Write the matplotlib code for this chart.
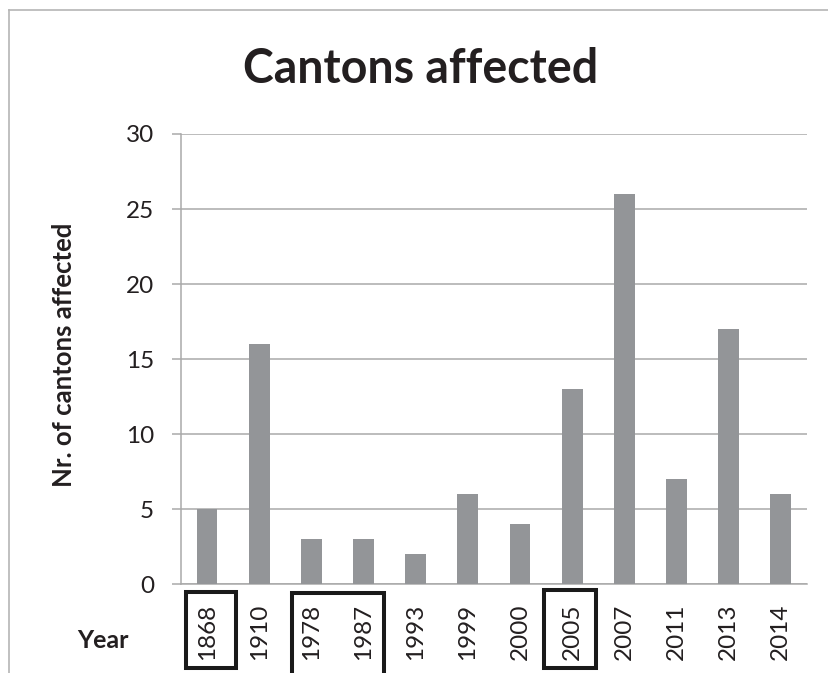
import numpy as np
import matplotlib
matplotlib.use("Agg")
import matplotlib.pyplot as plt
from matplotlib.patches import Rectangle
from matplotlib.lines import Line2D

plt.rcParams['font.family'] = ['Lato', 'DejaVu Sans']

# Jahre und Anzahl betroffener Kantone
years = ["1868", "1910", "1978", "1987", "1993", "1999", "2000",
         "2005", "2007", "2011", "2013", "2014"]
cantons = [5, 16, 3, 3, 2, 6, 4, 13, 26, 7, 17, 6]

# hervorgehobene Jahresgruppen (erstes und letztes Jahr der Gruppe)
highlight_groups = [("1868", "1868"), ("1978", "1987"), ("2005", "2005")]

text_col = "#231f20"
grid_col = "#a9a9a9"
bar_col = "#939598"

fig = plt.figure(figsize=(8.29, 6.73), dpi=100)
ax = fig.add_axes([0.2183, 0.1322, 0.7551, 0.6687])

x = np.arange(len(years))
ax.bar(x, cantons, width=0.40, color=bar_col, zorder=3)

ax.set_xlim(-0.5, len(years) - 0.5)
ax.set_ylim(0, 30)
ax.set_yticks(np.arange(0, 31, 5))
ax.yaxis.grid(True, color=grid_col, linewidth=1.1, zorder=0)
ax.set_xticks(x)
ax.set_xticklabels(years, rotation=90, fontsize=17.5, color=text_col)
ax.tick_params(axis='x', length=0, pad=14)
ax.tick_params(axis='y', length=6.5, width=1.1, color=grid_col, pad=13,
               labelsize=17.5, labelcolor=text_col)

for side in ['top', 'right']:
    ax.spines[side].set_visible(False)
for side in ['left', 'bottom']:
    ax.spines[side].set_color(grid_col)
    ax.spines[side].set_linewidth(1.1)

# Rahmen um die markierten Jahre
box_specs = [(-0.40, 0.56, -0.187, -0.017),
             (1.63, 3.39, -0.22, -0.020),
             (6.46, 7.46, -0.187, -0.013)]
for grp, (x0, x1, y0, y1) in zip(highlight_groups, box_specs):
    r = Rectangle((x0, y0), x1 - x0, y1 - y0, transform=ax.get_xaxis_transform(),
                  fill=False, edgecolor="#1a1a1a", linewidth=2.9, clip_on=False)
    ax.add_patch(r)

fig.text(0.507, 0.897, "Cantons affected", ha='center', va='center',
         fontsize=33.5, fontweight='bold', color=text_col)
fig.text(0.0775, 0.4725, "Nr. of cantons affected", rotation=90, ha='center',
         va='center', fontsize=18.5, fontweight='bold', color=text_col)
fig.text(0.124, 0.049, "Year", ha='center', va='center', fontsize=18,
         fontweight='bold', color=text_col)

# Diagrammrahmen (unten abgeschnitten)
fy = 1 - 10 / 673
fx = 9 / 829
fig.add_artist(Line2D([fx, fx], [0, fy], transform=fig.transFigure,
                      color="#b5b5b5", linewidth=1.2))
fig.add_artist(Line2D([fx, 1], [fy, fy], transform=fig.transFigure,
                      color="#b5b5b5", linewidth=1.2))

fig.savefig("out.png", dpi=100)
